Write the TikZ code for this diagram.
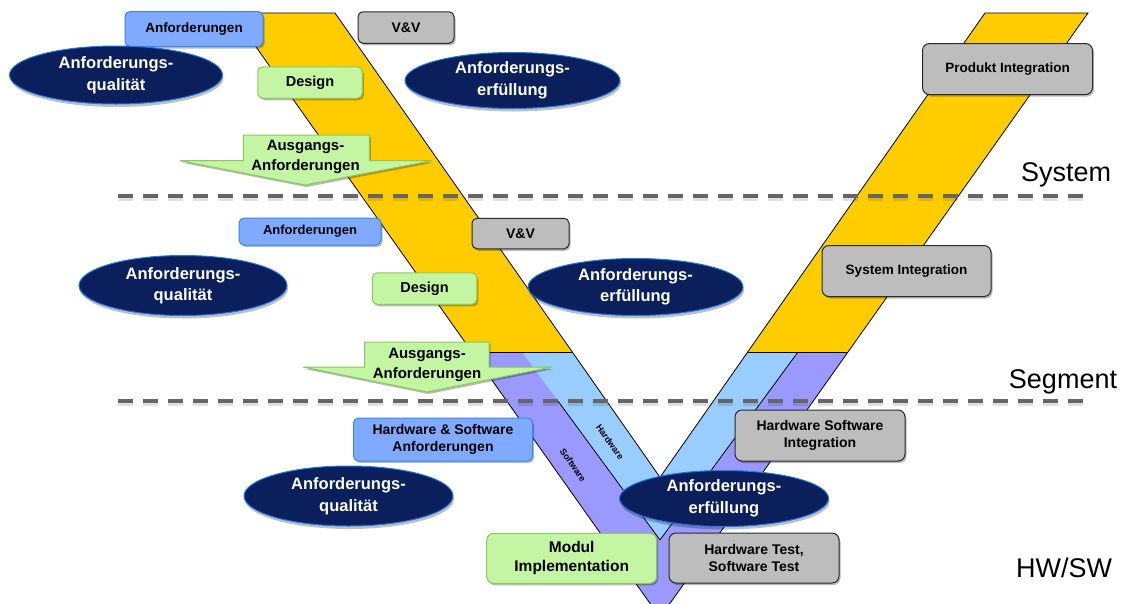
\documentclass[tikz,border=0pt]{standalone}
\usepackage{fontspec}
\setmainfont{Liberation Sans}
\usetikzlibrary{shapes.geometric,shadows}

\definecolor{bandyellow}{HTML}{FFCC00}
\definecolor{bandblue}{HTML}{99CCFF}
\definecolor{bandpurple}{HTML}{9999FF}
\definecolor{reqfill}{HTML}{7FAAFF}
\definecolor{reqline}{HTML}{3388EE}
\definecolor{desfill}{HTML}{C4F5A2}
\definecolor{desline}{HTML}{8CC860}
\definecolor{vvfill}{HTML}{BDBDBD}
\definecolor{vvline}{HTML}{2A2A2A}
\definecolor{goalfill}{HTML}{0B1F5C}
\definecolor{goalline}{HTML}{1E78E6}
\definecolor{dashgray}{HTML}{666666}

\begin{document}
\begin{tikzpicture}[x=1pt,y=-1pt,
  softshadow/.style={drop shadow={shadow xshift=1.5pt,shadow yshift=-2pt,opacity=0.28,fill=black}},
  box/.style={rectangle,rounded corners=5pt,line width=1pt,align=center,inner sep=0pt,
    font=\bfseries\fontsize{13.5}{16.5}\selectfont,softshadow},
  reqbox/.style={box,fill=reqfill,draw=reqline},
  desbox/.style={box,fill=desfill,draw=desline},
  vvbox/.style={box,fill=vvfill,draw=vvline},
  bigbox/.style={rounded corners=7pt},
  goal/.style={ellipse,fill=goalfill,draw=goalline,line width=1pt,text=white,align=center,
    inner sep=0pt,font=\bfseries\fontsize{16.5}{21.5}\selectfont,
    drop shadow={shadow xshift=1pt,shadow yshift=-3pt,opacity=0.25,fill=black}},
  outarrow/.style={fill=desfill,draw=desline,line width=1pt,line join=miter},
  outtext/.style={align=center,inner sep=0pt,font=\bfseries\fontsize{15}{19.5}\selectfont},
  edge/.style={draw=black,line width=0.8pt,line join=miter},
  level/.style={dashgray,line width=4pt,dash pattern=on 15pt off 10pt},
  levelshade/.style={black,opacity=0.12,line width=4pt,dash pattern=on 15pt off 10pt},
  levellabel/.style={anchor=base,inner sep=0pt,font=\fontsize{27}{30}\selectfont},
  bandlabel/.style={inner sep=0pt,font=\bfseries\fontsize{9}{10}\selectfont}]

\useasboundingbox (0,0) rectangle (1125,603);
\clip (0,0) rectangle (1125,603);

% corner points of the V
\coordinate (LOt) at (232,13);
\coordinate (LIt) at (335,13);
\coordinate (RIt) at (985,13);
\coordinate (ROt) at (1088,13);
\coordinate (LOm) at (472,352);
\coordinate (LMm) at (522,352);
\coordinate (LIm) at (572.3,352);
\coordinate (RIm) at (747.7,352);
\coordinate (RMm) at (798,352);
\coordinate (ROm) at (848,352);
\coordinate (LMd) at (557.2,400);
\coordinate (Itip) at (660,477.3);
\coordinate (Mtip) at (660,540);
\coordinate (Otip) at (660,617.5);

% bands
\fill[bandyellow] (LOt) -- (LIt) -- (LIm) -- (LOm) -- cycle;
\fill[bandyellow] (RIt) -- (ROt) -- (ROm) -- (RIm) -- cycle;
\fill[bandpurple] (LOm) -- (Otip) -- (ROm) -- (RIm) -- (Itip) -- (LIm) -- cycle;
\fill[bandblue] (LMm) -- (LIm) -- (Itip) -- (RIm) -- (RMm) -- (Mtip) -- cycle;

% band outlines
\draw[edge] (LOt) -- (LIt) -- (Itip) -- (RIt) -- (ROt) -- (Otip) -- cycle;
\draw[edge] (LOm) -- (LIm);
\draw[edge] (RIm) -- (ROm);
\draw[edge] (RMm) -- (Mtip);
\draw[edge] (LMd) -- (Mtip);

\node[bandlabel,rotate=-55] (hwlab) at (610,442) {Hardware};
\node[bandlabel,rotate=-55] (swlab) at (573,465) {Software};

% level separators
\coordinate (sysL) at (118,196);
\coordinate (sysR) at (1092,196);
\coordinate (segL) at (118,401);
\coordinate (segR) at (1092,401);
\draw[levelshade] ([yshift=-2.5pt]sysL) -- ([yshift=-2.5pt]sysR);
\draw[levelshade] ([yshift=-2.5pt]segL) -- ([yshift=-2.5pt]segR);
\draw[level] (sysL) -- (sysR);
\draw[level] (segL) -- (segR);

\node[levellabel] (lsys) at (1066,181) {System};
\node[levellabel] (lseg) at (1063,388) {Segment};
\node[levellabel] (lhw) at (1064,577) {HW/SW};

% ---- System level ----
\node[reqbox,minimum width=138pt,minimum height=35pt] (req1) at (194,29) {Anforderungen};
\node[vvbox,minimum width=96pt,minimum height=31.5pt,font=\bfseries\fontsize{14}{17}\selectfont] (vv1) at (406,27.5) {V\&V};
\node[desbox,minimum width=104.5pt,minimum height=31.5pt,font=\bfseries\fontsize{14.5}{17}\selectfont] (des1) at (310,82.5) {Design};
\node[goal,minimum width=213pt,minimum height=58pt] (qual1) at (116,75) {Anforderungs-\\qualität};
\node[goal,minimum width=215pt,minimum height=56pt] (erf1) at (512.5,80.5) {Anforderungs-\\erfüllung};
\draw[outarrow,softshadow] (243.3,135) -- (369.3,135) -- (369.3,160.7) -- (431.7,160.7)
  -- (305,185) -- (180,160.7) -- (243.3,160.7) -- cycle;
\node[outtext] (out1) at (305.5,157) {Ausgangs-\\Anforderungen};
\node[vvbox,bigbox,minimum width=170pt,minimum height=51pt] (prod) at (1007.5,69) {Produkt Integration};

% ---- Segment level ----
\node[reqbox,minimum width=142pt,minimum height=27pt,font=\bfseries\fontsize{13}{16}\selectfont] (req2) at (310,231.5) {Anforderungen};
\node[vvbox,minimum width=97pt,minimum height=30.5pt,font=\bfseries\fontsize{14}{17}\selectfont] (vv2) at (520.5,233.5) {V\&V};
\node[desbox,minimum width=104.5pt,minimum height=31.5pt,font=\bfseries\fontsize{14.5}{17}\selectfont] (des2) at (424.5,288.5) {Design};
\node[goal,minimum width=208pt,minimum height=60pt] (qual2) at (183,285.5) {Anforderungs-\\qualität};
\node[goal,minimum width=215pt,minimum height=57pt] (erf2) at (635.5,287) {Anforderungs-\\erfüllung};
\draw[outarrow,softshadow] (364.7,342) -- (489,342) -- (489,367) -- (552,367)
  -- (427,392) -- (303,367) -- (364.7,367) -- cycle;
\node[outtext] (out2) at (427,365) {Ausgangs-\\Anforderungen};
\node[vvbox,bigbox,minimum width=169pt,minimum height=51pt] (sysint) at (906.5,271) {System Integration};

% ---- HW/SW level ----
\node[reqbox,minimum width=179pt,minimum height=43pt,font=\bfseries\fontsize{14}{16.7}\selectfont] (req3) at (443,439.5) {Hardware \& Software\\Anforderungen};
\node[goal,minimum width=209pt,minimum height=60pt] (qual3) at (348.5,496) {Anforderungs-\\qualität};
\node[desbox,bigbox,minimum width=170pt,minimum height=50pt,font=\bfseries\fontsize{15.5}{19}\selectfont] (mod) at (571.7,558.3) {Modul\\Implementation};
\node[vvbox,bigbox,minimum width=170pt,minimum height=50pt,font=\bfseries\fontsize{14}{16.5}\selectfont] (hwtest) at (754,558) {Hardware Test,\\Software Test};
\node[goal,minimum width=209pt,minimum height=56pt] (erf3) at (724,498.5) {Anforderungs-\\erfüllung};
\node[vvbox,bigbox,minimum width=170pt,minimum height=51pt,font=\bfseries\fontsize{14}{17}\selectfont] (hwsw) at (820,435.5) {Hardware Software\\Integration};

\end{tikzpicture}
\end{document}
